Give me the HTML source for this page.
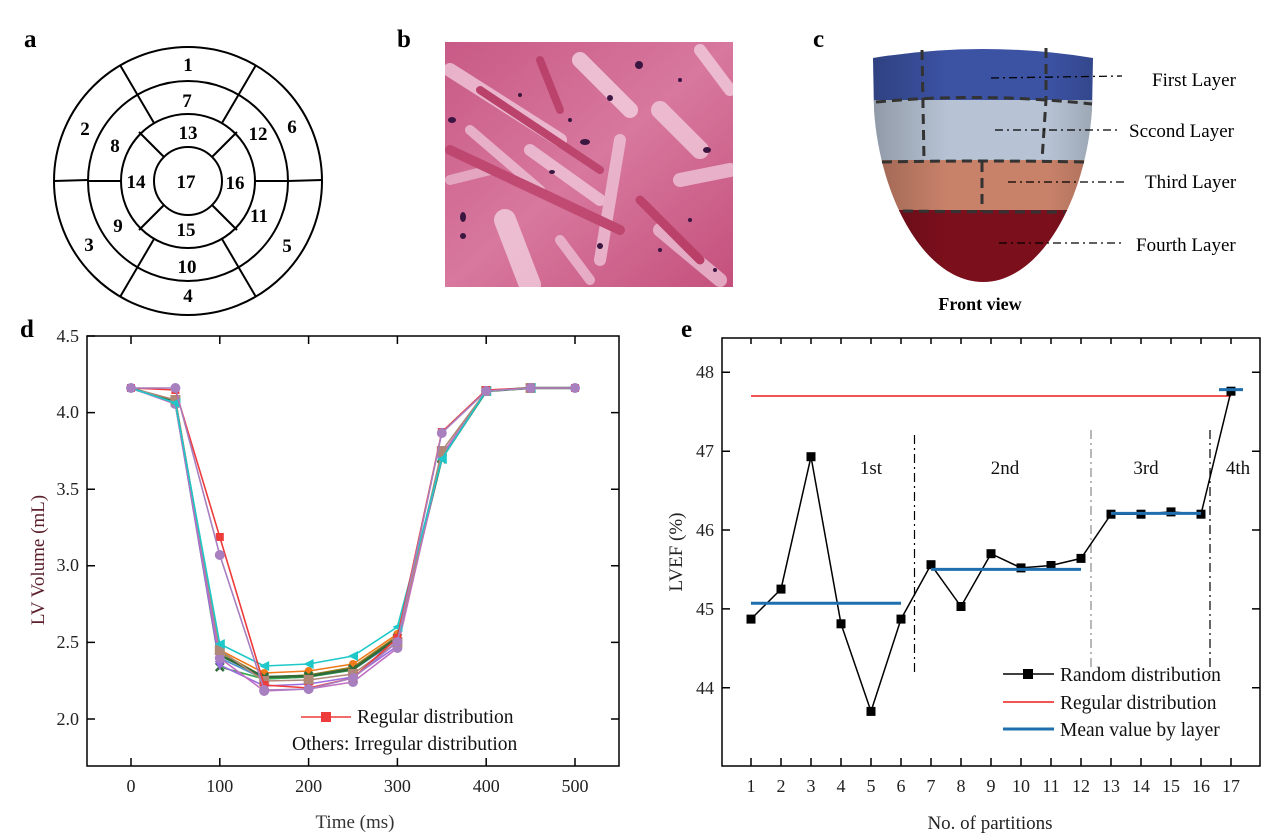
<!DOCTYPE html>
<html><head><meta charset="utf-8"><style>
html,body{margin:0;padding:0;background:#fff;}
svg{display:block;font-family:"Liberation Serif",serif;}
</style></head><body>
<svg width="1267" height="836" viewBox="0 0 1267 836" xmlns="http://www.w3.org/2000/svg">
<defs>
<marker id="mr" markerWidth="10" markerHeight="10" refX="5" refY="5" markerUnits="userSpaceOnUse"><rect x="1" y="1" width="8" height="8" fill="#ee3b3b"/></marker>
<marker id="mp" markerWidth="12" markerHeight="12" refX="6" refY="6" markerUnits="userSpaceOnUse"><circle cx="6" cy="6" r="5" fill="#a87fbf"/></marker>
<marker id="mc" markerWidth="12" markerHeight="12" refX="6" refY="6" markerUnits="userSpaceOnUse"><path d="M1,6 L11,1 L11,11Z" fill="#1ec8c8"/></marker>
<marker id="mo" markerWidth="10" markerHeight="10" refX="5" refY="5" markerUnits="userSpaceOnUse"><circle cx="5" cy="5" r="4" fill="#f07a1a"/></marker>
<marker id="mg" markerWidth="10" markerHeight="10" refX="5" refY="5" markerUnits="userSpaceOnUse"><path d="M1,1L9,9M9,1L1,9" stroke="#2e6b3a" stroke-width="2.5"/></marker>
<marker id="mb" markerWidth="12" markerHeight="12" refX="6" refY="6" markerUnits="userSpaceOnUse"><rect x="1" y="1" width="10" height="10" fill="#b08878"/></marker>
<marker id="mv" markerWidth="12" markerHeight="12" refX="6" refY="6" markerUnits="userSpaceOnUse"><path d="M1,2 L11,2 L6,11Z" fill="#9b6be0"/></marker>
<marker id="mk" markerWidth="10" markerHeight="10" refX="5" refY="5" markerUnits="userSpaceOnUse"><rect x="0.5" y="0.5" width="9" height="9" fill="#000"/></marker>
<linearGradient id="hb" x1="0" y1="0" x2="1" y2="1"><stop offset="0" stop-color="#c85a86"/><stop offset="0.5" stop-color="#d8789e"/><stop offset="1" stop-color="#c4507c"/></linearGradient>
<linearGradient id="shade" x1="0" y1="0" x2="1" y2="0"><stop offset="0" stop-color="#000" stop-opacity="0.25"/><stop offset="0.35" stop-color="#000" stop-opacity="0"/><stop offset="0.75" stop-color="#000" stop-opacity="0"/><stop offset="1" stop-color="#000" stop-opacity="0.2"/></linearGradient>
<clipPath id="hc"><path d="M873,58 Q983,40 1093,58 L1092,110 C1086,200 1040,282 983,282 C926,282 880,200 874,110 Z"/></clipPath>
<clipPath id="bc"><rect x="445" y="42" width="288" height="245"/></clipPath>
</defs>

<g font-weight="bold" font-size="25">
<text x="24" y="47">a</text><text x="397" y="47">b</text><text x="813" y="47">c</text>
<text x="20" y="337">d</text><text x="681" y="337">e</text>
</g>

<!-- panel a -->
<g fill="none" stroke="#000" stroke-width="2">
<circle cx="188" cy="181" r="134"/><circle cx="188" cy="181" r="100"/><circle cx="188" cy="181" r="67"/><circle cx="188" cy="181" r="34"/>
<line x1="54" y1="181" x2="88" y2="180"/><line x1="288" y1="181" x2="322" y2="180"/>
<line x1="120" y1="65" x2="154" y2="123"/><line x1="256" y1="65" x2="222" y2="123"/>
<line x1="120" y1="297" x2="154" y2="239"/><line x1="256" y1="297" x2="222" y2="239"/>
<line x1="88" y1="181" x2="121" y2="181"/><line x1="255" y1="181" x2="288" y2="181"/>
<line x1="139" y1="132" x2="164" y2="157"/><line x1="237" y1="132" x2="212" y2="157"/>
<line x1="139" y1="230" x2="164" y2="205"/><line x1="237" y1="230" x2="212" y2="205"/>
</g>
<g font-weight="bold" font-size="19" text-anchor="middle">
<text x="188" y="71">1</text><text x="187" y="107">7</text><text x="188" y="139">13</text>
<text x="85" y="135">2</text><text x="115" y="152">8</text><text x="258" y="140">12</text><text x="292" y="133">6</text>
<text x="136" y="188">14</text><text x="186" y="188">17</text><text x="235" y="189">16</text>
<text x="118" y="232">9</text><text x="186" y="236">15</text><text x="259" y="222">11</text>
<text x="89" y="251">3</text><text x="287" y="252">5</text><text x="187" y="273">10</text><text x="188" y="302">4</text>
</g>

<!-- panel b -->
<g clip-path="url(#bc)">
<rect x="445" y="42" width="288" height="245" fill="url(#hb)"/>
<g stroke-linecap="round" opacity="0.75">
<path d="M450,70 L560,140" stroke="#f3cfe0" stroke-width="14"/>
<path d="M470,130 L540,190" stroke="#efc6da" stroke-width="10"/>
<path d="M580,60 L630,110" stroke="#f6d8e6" stroke-width="16"/>
<path d="M530,150 L600,200" stroke="#f2cde0" stroke-width="12"/>
<path d="M505,220 L530,285" stroke="#f4d4e3" stroke-width="22"/>
<path d="M620,140 L600,260" stroke="#f0c8dc" stroke-width="12"/>
<path d="M660,110 L700,150" stroke="#f3d0e0" stroke-width="18"/>
<path d="M680,180 L730,170" stroke="#f1cadd" stroke-width="14"/>
<path d="M660,230 L720,280" stroke="#eec4d8" stroke-width="14"/>
<path d="M700,50 L730,90" stroke="#f4d2e2" stroke-width="12"/>
<path d="M450,180 L490,170" stroke="#e9b8cf" stroke-width="10"/>
<path d="M560,240 L590,280" stroke="#efc4d8" stroke-width="10"/>
<path d="M480,90 L600,170" stroke="#b4365e" stroke-width="8"/>
<path d="M450,150 L620,230" stroke="#b93c64" stroke-width="10"/>
<path d="M640,200 L700,260" stroke="#b5375f" stroke-width="9"/>
<path d="M540,60 L560,110" stroke="#b4365e" stroke-width="8"/>
</g>
<g fill="#3a1640">
<ellipse cx="452" cy="120" rx="4" ry="3"/><ellipse cx="585" cy="142" rx="5" ry="3"/><ellipse cx="639" cy="65" rx="4" ry="4"/>
<ellipse cx="463" cy="217" rx="3" ry="5"/><ellipse cx="610" cy="98" rx="3" ry="3"/><ellipse cx="707" cy="150" rx="4" ry="3"/>
<ellipse cx="552" cy="172" rx="3" ry="2"/><ellipse cx="600" cy="246" rx="3" ry="3"/><ellipse cx="690" cy="220" rx="2" ry="2"/>
<ellipse cx="520" cy="95" rx="2" ry="2"/><ellipse cx="660" cy="250" rx="2" ry="2"/><ellipse cx="715" cy="270" rx="2" ry="2"/>
<ellipse cx="463" cy="236" rx="3" ry="3"/><ellipse cx="570" cy="120" rx="2" ry="2"/><ellipse cx="680" cy="80" rx="2" ry="2"/>
</g>
</g>

<!-- panel c -->
<g clip-path="url(#hc)">
<rect x="860" y="30" width="250" height="72" fill="#3c53a4"/>
<rect x="860" y="100" width="250" height="62" fill="#b7c3d4"/>
<rect x="860" y="160" width="250" height="52" fill="#c9826a"/>
<rect x="860" y="210" width="250" height="80" fill="#7c0f1c"/>
<rect x="860" y="30" width="250" height="260" fill="url(#shade)"/>
</g>
<g fill="none" stroke="#333" stroke-width="3" stroke-dasharray="10,6">
<path d="M876,102 Q980,92 1092,104"/><path d="M882,162 Q980,160 1085,162"/><path d="M903,211 Q980,212 1065,212"/>
<path d="M922,50 L924,160"/><path d="M1046,48 L1046,100 L1042,160"/><path d="M982,162 L982,212"/>
</g>
<g stroke="#000" stroke-width="1.3" stroke-dasharray="8,4,2,4">
<line x1="991" y1="78" x2="1122" y2="76"/><line x1="995" y1="130" x2="1120" y2="130"/>
<line x1="1008" y1="182" x2="1126" y2="182"/><line x1="999" y1="243" x2="1122" y2="243"/>
</g>
<g font-size="19">
<text x="1152" y="86">First Layer</text><text x="1129" y="137">Sccond Layer</text>
<text x="1145" y="188">Third Layer</text><text x="1136" y="251">Fourth Layer</text>
</g>
<text x="980" y="310" font-size="18" font-weight="bold" text-anchor="middle">Front view</text>

<!-- panel d -->
<rect x="87" y="336" width="532" height="430" fill="none" stroke="#000" stroke-width="1.5"/>
<g stroke="#000" stroke-width="1.5">
<path d="M131,766v-8M219.8,766v-8M308.6,766v-8M397.4,766v-8M486.2,766v-8M575,766v-8M131,336v8M219.8,336v8M308.6,336v8M397.4,336v8M486.2,336v8M575,336v8"/>
<path d="M87,336h8M87,412.6h8M87,489.2h8M87,565.8h8M87,642.4h8M87,719h8M619,412.6h-8M619,489.2h-8M619,565.8h-8M619,642.4h-8M619,719h-8"/>
</g>
<g font-size="18" text-anchor="end" fill="#222">
<text x="79" y="342">4.5</text><text x="79" y="418">4.0</text><text x="79" y="495">3.5</text><text x="79" y="571">3.0</text><text x="79" y="648">2.5</text><text x="79" y="725">2.0</text>
</g>
<g font-size="18" text-anchor="middle" fill="#222">
<text x="131" y="792">0</text><text x="219.8" y="792">100</text><text x="308.6" y="792">200</text><text x="397.4" y="792">300</text><text x="486.2" y="792">400</text><text x="575" y="792">500</text>
</g>
<text x="355" y="828" font-size="19" text-anchor="middle" fill="#333">Time (ms)</text>
<text transform="translate(44,560) rotate(-90)" font-size="19" text-anchor="middle" fill="#5a1f2a">LV Volume (mL)</text>
<g fill="none" stroke-width="1.6">
<polyline stroke="#4f8fd0" marker-start="url(#mo)" marker-mid="url(#mo)" marker-end="url(#mo)" points="131,388 175.4,403 219.8,658 264.2,679 308.6,677 353,670 397.4,640 441.8,458 486.2,391 530.6,388 575,388"/>
<polyline stroke="#3aa84a" marker-mid="url(#mg)" points="131,388 175.4,403 219.8,667 264.2,679 308.6,677 353,670 397.4,638 441.8,459 486.2,391 530.6,388 575,388"/>
<polyline stroke="#a08020" marker-mid="url(#mo)" points="131,388 175.4,402 219.8,652 264.2,677 308.6,675 353,667 397.4,636 441.8,456 486.2,391 530.6,388 575,388"/>
<polyline stroke="#f07a1a" marker-mid="url(#mo)" points="131,388 175.4,401 219.8,650 264.2,673 308.6,671 353,664 397.4,634 441.8,456 486.2,391 530.6,388 575,388"/>
<polyline stroke="#2e6b3a" stroke-width="2.5" marker-mid="url(#mg)" points="131,388 175.4,402 219.8,655 264.2,677 308.6,676 353,669 397.4,638 441.8,458 486.2,391 530.6,388 575,388"/>
<polyline stroke="#9b6be0" marker-mid="url(#mv)" points="131,388 175.4,404 219.8,665 264.2,686 308.6,684 353,677 397.4,646 441.8,456 486.2,391 530.6,388 575,388"/>
<polyline stroke="#c070c0" marker-mid="url(#mp)" points="131,388 175.4,404 219.8,658 264.2,691 308.6,689 353,682 397.4,648 441.8,455 486.2,391 530.6,388 575,388"/>
<polyline stroke="#b08878" marker-mid="url(#mb)" points="131,388 175.4,400 219.8,650 264.2,681 308.6,680 353,674 397.4,642 441.8,451 486.2,391 530.6,388 575,388"/>
<polyline stroke="#1ec8c8" marker-mid="url(#mc)" points="131,388 175.4,403 219.8,644 264.2,666 308.6,664 353,656 397.4,627 441.8,459 486.2,391 530.6,388 575,388"/>
<polyline stroke="#ee3b3b" marker-start="url(#mr)" marker-mid="url(#mr)" marker-end="url(#mr)" points="131,388 175.4,390 219.8,537 264.2,685 308.6,688 353,678 397.4,638 441.8,432 486.2,390 530.6,388 575,388"/>
<polyline stroke="#a87fbf" marker-start="url(#mp)" marker-mid="url(#mp)" marker-end="url(#mp)" points="131,388 175.4,388 219.8,555 264.2,690 308.6,689 353,678 397.4,642 441.8,433 486.2,391 530.6,388 575,388"/>
</g>
<line x1="301" y1="717" x2="351" y2="717" stroke="#ee3b3b" stroke-width="1.6"/>
<rect x="321" y="712" width="10" height="10" fill="#ee3b3b"/>
<g font-size="19.5" fill="#111"><text x="357" y="723">Regular distribution</text><text x="292" y="750">Others: Irregular distribution</text></g>

<!-- panel e -->
<rect x="722" y="338" width="538" height="428" fill="none" stroke="#000" stroke-width="1.5"/>
<g stroke="#000" stroke-width="1.5">
<path d="M751,766v-8M781,766v-8M811,766v-8M841,766v-8M871,766v-8M901,766v-8M931,766v-8M961,766v-8M991,766v-8M1021,766v-8M1051,766v-8M1081,766v-8M1111,766v-8M1141,766v-8M1171,766v-8M1201,766v-8M1231,766v-8"/>
<path d="M751,338v6M781,338v6M811,338v6M841,338v6M871,338v6M901,338v6M931,338v6M961,338v6M991,338v6M1021,338v6M1051,338v6M1081,338v6M1111,338v6M1141,338v6M1171,338v6M1201,338v6M1231,338v6"/>
<path d="M722,372.3h8M722,451.2h8M722,530h8M722,608.9h8M722,687.7h8M1260,372.3h-8M1260,451.2h-8M1260,530h-8M1260,608.9h-8M1260,687.7h-8"/>
</g>
<g font-size="18" text-anchor="end" fill="#222">
<text x="714" y="378">48</text><text x="714" y="457">47</text><text x="714" y="536">46</text><text x="714" y="615">45</text><text x="714" y="694">44</text>
</g>
<g font-size="18" text-anchor="middle" fill="#222">
<text x="751" y="792">1</text><text x="781" y="792">2</text><text x="811" y="792">3</text><text x="841" y="792">4</text><text x="871" y="792">5</text><text x="901" y="792">6</text><text x="931" y="792">7</text><text x="961" y="792">8</text><text x="991" y="792">9</text><text x="1021" y="792">10</text><text x="1051" y="792">11</text><text x="1081" y="792">12</text><text x="1111" y="792">13</text><text x="1141" y="792">14</text><text x="1171" y="792">15</text><text x="1201" y="792">16</text><text x="1231" y="792">17</text>
</g>
<text x="990" y="829" font-size="19" text-anchor="middle" fill="#222">No. of partitions</text>
<text transform="translate(682,552) rotate(-90)" font-size="19" text-anchor="middle" fill="#222">LVEF (%)</text>
<g stroke-width="1.2" stroke-dasharray="9,4,2,4">
<line x1="914.5" y1="435" x2="914.5" y2="672" stroke="#000"/>
<line x1="1091" y1="430" x2="1091" y2="667" stroke="#888"/>
<line x1="1210" y1="430" x2="1210" y2="672" stroke="#000"/>
</g>
<g font-size="19" text-anchor="middle" fill="#111">
<text x="871" y="474">1st</text><text x="1005" y="474">2nd</text><text x="1146" y="474">3rd</text><text x="1238" y="474">4th</text>
</g>
<line x1="751" y1="396" x2="1231" y2="396" stroke="#ee1c1c" stroke-width="1.6"/>
<polyline fill="none" stroke="#000" stroke-width="1.5" marker-start="url(#mk)" marker-mid="url(#mk)" marker-end="url(#mk)" points="751,619.1 781,589.1 811,456.7 841,623.8 871,711.4 901,619.1 931,564.7 961,606.5 991,553.7 1021,567.9 1051,565.5 1081,558.4 1111,514.2 1141,514.2 1171,511.9 1201,514.2 1231,391.2"/>
<g stroke="#1f6fae" stroke-width="3">
<line x1="751" y1="603.3" x2="901" y2="603.3"/><line x1="931" y1="569.4" x2="1081" y2="569.4"/>
<line x1="1111" y1="513.4" x2="1201" y2="513.4"/><line x1="1219" y1="389.6" x2="1243" y2="389.6"/>
</g>
<line x1="1003" y1="674" x2="1054" y2="674" stroke="#000" stroke-width="1.5"/><rect x="1023" y="669" width="10" height="10" fill="#000"/>
<line x1="1003" y1="702" x2="1054" y2="702" stroke="#ee1c1c" stroke-width="1.6"/>
<line x1="1003" y1="729" x2="1054" y2="729" stroke="#1f6fae" stroke-width="3"/>
<g font-size="19.5" fill="#111"><text x="1060" y="681">Random distribution</text><text x="1060" y="709">Regular distribution</text><text x="1060" y="736">Mean value by layer</text></g>
</svg>
</body></html>
